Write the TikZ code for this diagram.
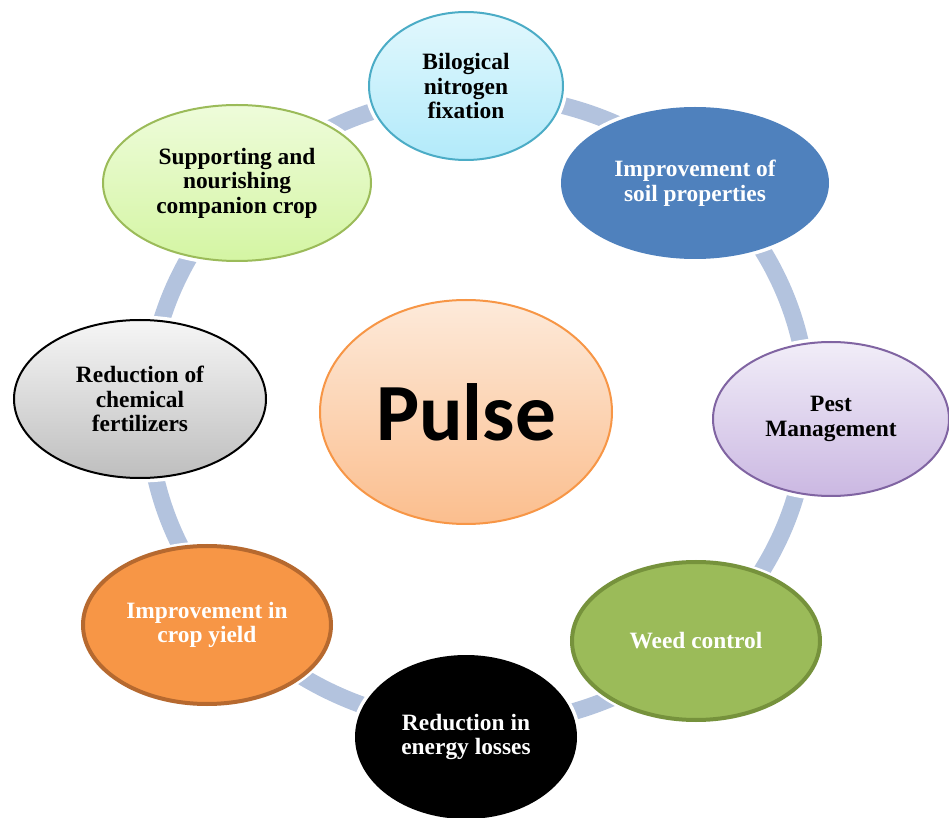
\documentclass[tikz,border=0pt]{standalone}
\usepackage{fontspec}
\setmainfont{Liberation Serif}
\newfontfamily\calfont{Carlito}
\usetikzlibrary{shapes.geometric}

\definecolor{ringblue}{RGB}{179,195,222}
\definecolor{tealln}{RGB}{75,172,198}
\definecolor{soilblue}{RGB}{79,129,189}
\definecolor{purpln}{RGB}{128,100,162}
\definecolor{weedgr}{RGB}{155,187,89}
\definecolor{weedln}{RGB}{118,146,60}
\definecolor{yieldor}{RGB}{247,150,70}
\definecolor{yieldln}{RGB}{182,105,47}

\begin{document}
\begin{tikzpicture}[
        x=0.5pt, y=-0.5pt,
        every node/.style={ellipse, inner sep=0pt, align=center, text centered,
            font=\bfseries\fontsize{11.7}{12.3}\selectfont,
            preaction={draw=white, line width=4.5pt}},
        ring/.style={draw=ringblue, line width=8.5pt},
        lite/.style={line width=1pt},
        heavy/.style={line width=2pt},
    ]
    \useasboundingbox (0,0) rectangle (949,818);

    % the cycle behind the bubbles
    \draw[ring] (478,410) ellipse [x radius=165pt, y radius=157.5pt];

    \node[lite, draw=tealln, top color={rgb,255:red,226;green,248;blue,253},
        bottom color={rgb,255:red,178;green,234;blue,250},
        minimum width=97pt, minimum height=74pt](1) at (466,86)
        {Bilogical\\nitrogen\\fixation};
    \node[lite, draw=soilblue, fill=soilblue, text=white,
        minimum width=133pt, minimum height=75pt](2) at (695,183)
        {Improvement of\\soil properties};
    \node[lite, draw=purpln, top color={rgb,255:red,241;green,237;blue,248},
        bottom color={rgb,255:red,203;green,184;blue,226},
        minimum width=118pt, minimum height=77pt](3) at (831,419)
        {Pest\\Management};
    \node[heavy, draw=weedln, fill=weedgr, text=white,
        minimum width=124pt, minimum height=79pt](4) at (696,641)
        {Weed control};
    \node[lite, draw=black, fill=black, text=white,
        minimum width=110pt, minimum height=81pt](5) at (466,737)
        {Reduction in\\energy losses};
    \node[heavy, draw=yieldln, fill=yieldor, text=white,
        minimum width=124pt, minimum height=79pt](6) at (207,625)
        {Improvement in\\crop yield};
    \node[lite, draw=black, top color={rgb,255:red,246;green,246;blue,246},
        bottom color={rgb,255:red,190;green,190;blue,190},
        minimum width=126pt, minimum height=79pt](7) at (140,399)
        {Reduction of\\chemical\\fertilizers};
    \node[lite, draw=weedgr, top color={rgb,255:red,238;green,252;blue,218},
        bottom color={rgb,255:red,212;green,245;blue,163},
        minimum width=134pt, minimum height=78pt](8) at (237,183)
        {Supporting and\\nourishing\\companion crop};

    \node[lite, draw=yieldor, top color={rgb,255:red,253;green,234;blue,218},
        bottom color={rgb,255:red,251;green,190;blue,142},
        font=\calfont\bfseries\fontsize{40.6}{43}\selectfont,
        minimum width=146pt, minimum height=112pt](0) at (466,412)
        {Pulse};
\end{tikzpicture}
\end{document}
